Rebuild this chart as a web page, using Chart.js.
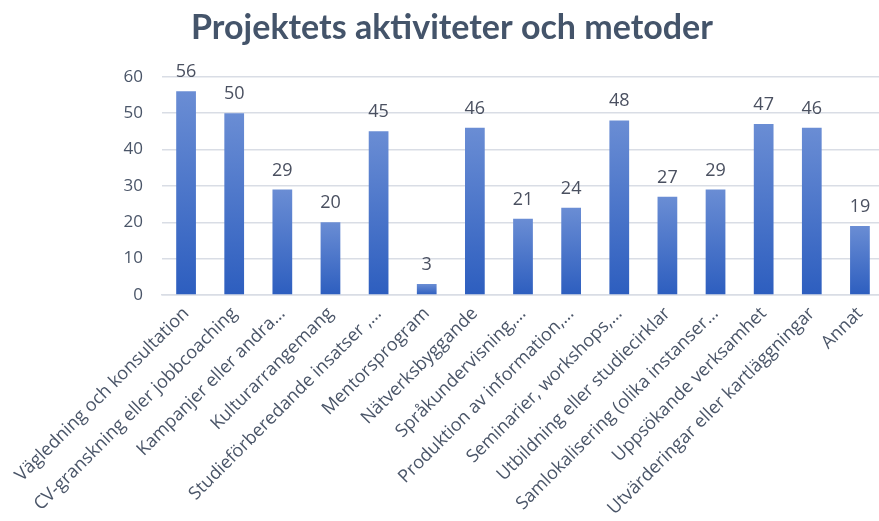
<!DOCTYPE html>
<html>
<head>
<meta charset="utf-8">
<script src="https://cdn.jsdelivr.net/npm/chart.js@4/dist/chart.umd.min.js"></script>
<style>
  html, body { margin: 0; padding: 0; background: #ffffff; overflow: hidden; }
  #wrap { width: 904px; height: 521px; }
</style>
</head>
<body>
<div id="wrap"><canvas id="c" width="904" height="521"></canvas></div>
<script>
const chartTitle = "Projektets aktiviteter och metoder";
const categories = [
  "Vägledning och konsultation",
  "CV-granskning eller jobbcoaching",
  "Kampanjer eller andra…",
  "Kulturarrangemang",
  "Studieförberedande insatser ,…",
  "Mentorsprogram",
  "Nätverksbyggande",
  "Språkundervisning,…",
  "Produktion av information,…",
  "Seminarier, workshops,…",
  "Utbildning eller studiecirklar",
  "Samlokalisering (olika instanser…",
  "Uppsökande verksamhet",
  "Utvärderingar eller kartläggningar",
  "Annat"
];
const values = [56, 50, 29, 20, 45, 3, 46, 21, 24, 48, 27, 29, 47, 46, 19];
const yTicks = [0, 10, 20, 30, 40, 50, 60];

const textColor = "#4a5568";
const titleColor = "#44546a";

const valueLabels = {
  id: "valueLabels",
  afterDatasetsDraw(chart) {
    const ctx = chart.ctx;
    const meta = chart.getDatasetMeta(0);
    ctx.save();
    ctx.font = "18px 'Open Sans'";
    ctx.fillStyle = "#4a5060";
    ctx.textAlign = "center";
    ctx.textBaseline = "alphabetic";
    meta.data.forEach((bar, i) => {
      ctx.fillText(String(values[i]), bar.x, bar.y - 14);
    });
    ctx.restore();
  }
};

function barGradient(context) {
  const chart = context.chart;
  if (!chart.chartArea || !chart.scales.y) return "#4472c4";
  const v = context.raw;
  const top = chart.scales.y.getPixelForValue(v);
  const bottom = chart.scales.y.getPixelForValue(0);
  if (!isFinite(top) || !isFinite(bottom) || bottom - top < 1) return "#3a66c4";
  const g = chart.ctx.createLinearGradient(0, top, 0, bottom);
  g.addColorStop(0, "#6a8dd4");
  g.addColorStop(1, "#2d5ebf");
  return g;
}

new Chart(document.getElementById("c"), {
  type: "bar",
  data: {
    labels: categories,
    datasets: [{
      data: values,
      backgroundColor: barGradient,
      borderWidth: 0,
      categoryPercentage: 1.0,
      barPercentage: 0.41
    }]
  },
  options: {
    responsive: false,
    animation: false,
    devicePixelRatio: 1,
    layout: { padding: { left: 20, right: 20, top: 0, bottom: 0 } },
    plugins: {
      legend: { display: false },
      tooltip: { enabled: false },
      title: {
        display: true,
        text: chartTitle,
        color: titleColor,
        font: { family: "Lato", size: 34, weight: "bold" },
        lineHeight: 1.2,
        padding: { top: 8, bottom: 28 }
      }
    },
    scales: {
      x: {
        grid: { display: false, drawTicks: false },
        border: { display: true, color: "#d9dde5", width: 1.5 },
        ticks: {
          color: textColor,
          font: { family: "Open Sans", size: 18 },
          maxRotation: 45,
          minRotation: 45,
          autoSkip: false,
          padding: 8
        },
        afterFit(scale) { scale.height = 226; }
      },
      y: {
        min: 0,
        max: 60,
        afterBuildTicks(scale) { scale.ticks = yTicks.map(v => ({ value: v })); },
        grid: { color: "#d9dde5", lineWidth: 1.5, drawTicks: false },
        border: { display: false },
        ticks: {
          color: textColor,
          font: { family: "Open Sans", size: 17 },
          padding: 19
        },
        afterFit(scale) { scale.width = 142; }
      }
    }
  },
  plugins: [valueLabels]
});
</script>
</body>
</html>
